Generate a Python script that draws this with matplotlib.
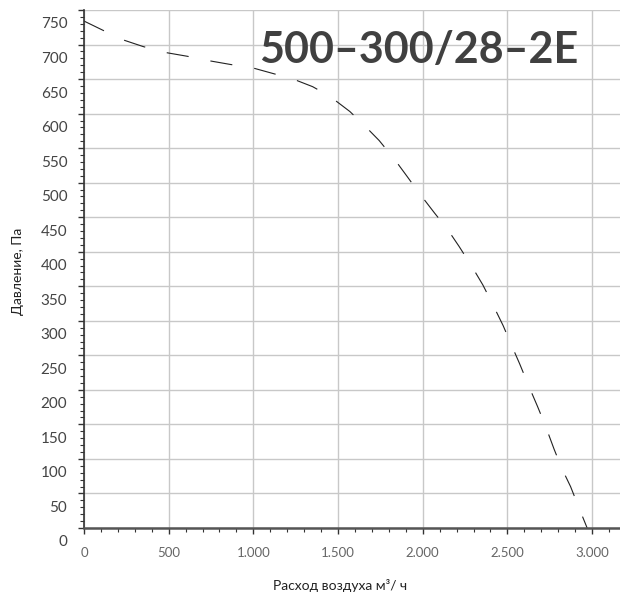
import matplotlib
matplotlib.use('Agg')
import matplotlib.pyplot as plt
import matplotlib.transforms as mtransforms
from matplotlib.ticker import MultipleLocator, FuncFormatter

# ========== данные кривой ==========
flow = [0, 134, 240, 350, 492, 610, 728, 868, 984, 1102, 1235, 1350, 1452,
        1570, 1659, 1743, 1836, 1908, 1979, 2070, 2145, 2214, 2292, 2355,
        2409, 2475, 2522, 2572, 2629, 2678, 2723, 2776, 2822, 2873, 2928, 2971]
pressure = [734, 718, 706, 697, 688, 683, 677, 671, 667, 659, 650, 639, 625,
            603, 582, 561, 533, 509, 485, 456, 433, 408, 378, 352,
            326, 293, 266, 238, 204, 176, 149, 114, 86, 60, 26, 0]

model = '500–300/28–2E'
x_label = 'Расход воздуха м³/ ч'
y_label = 'Давление, Па'

plt.rcParams['font.family'] = ['Lato', 'DejaVu Sans']

fig = plt.figure(figsize=(6.2, 5.93), dpi=100)
ax = fig.add_axes([84 / 620, 1 - 528 / 593, 1 - 84 / 620, (528 - 10) / 593])

ax.plot(flow, pressure, color='#222222', lw=0.8, dashes=(20, 20))

ax.set_xlim(0, 3165)
ax.set_ylim(0, 750)
ax.xaxis.set_major_locator(MultipleLocator(500))
ax.xaxis.set_minor_locator(MultipleLocator(100))
ax.yaxis.set_major_locator(MultipleLocator(50))
ax.yaxis.set_minor_locator(MultipleLocator(10))

ax.xaxis.set_major_formatter(FuncFormatter(lambda v, p: f'{int(v):,}'.replace(',', '.')))
ax.yaxis.set_major_formatter(FuncFormatter(lambda v, p: f'{int(v)}'))

ax.grid(True, which='major', color='#c8c8c8', lw=1)
ax.set_axisbelow(True)

for side in ['top', 'right']:
    ax.spines[side].set_visible(False)
ax.spines['left'].set_color('#333333')
ax.spines['left'].set_linewidth(1.2)
ax.spines['bottom'].set_color('#555555')
ax.spines['bottom'].set_linewidth(1.8)

ax.tick_params(axis='y', which='major', length=4, width=1, color='#333333',
               labelsize=11, labelcolor='#444444', pad=8)
ax.tick_params(axis='y', which='minor', length=3, width=0.8, color='#333333')
ax.tick_params(axis='x', which='major', length=4, width=1, color='#333333',
               labelsize=9.5, labelcolor='#666666', pad=10)
ax.tick_params(axis='x', which='minor', length=3, width=0.8, color='#333333')

# подписи по Y смещены вниз относительно линий сетки
shift = mtransforms.ScaledTranslation(0, -13 / 100, fig.dpi_scale_trans)
for lbl in ax.get_yticklabels():
    lbl.set_transform(lbl.get_transform() + shift)

fig.text(18 / 620, 1 - 271 / 593, y_label, rotation=90, ha='center', va='center',
         fontsize=10, color='#222222')
fig.text(340 / 620, 1 - 586 / 593, x_label, ha='center', va='center',
         fontsize=10, color='#222222')

fig.text(259 / 620, 1 - 63 / 593, model, ha='left', va='baseline',
         fontsize=31, fontweight='bold', color='#404040')

fig.savefig('out.png', dpi=100)
